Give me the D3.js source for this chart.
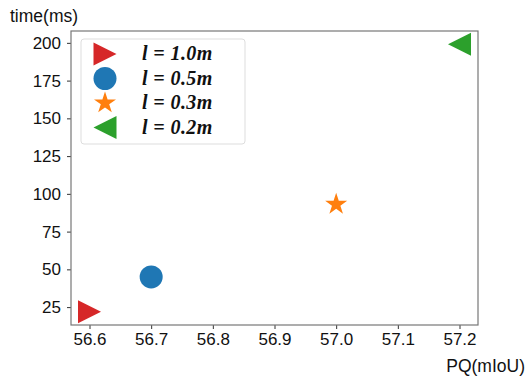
<!DOCTYPE html>
<html lang="en">
<head>
<meta charset="UTF-8">
<script src="https://cdn.jsdelivr.net/npm/d3@7"></script>
<style>
  body { margin: 0; background: #fff; }
  text { font-family: "Liberation Sans", Arial, sans-serif; }
  .leg text { font-family: "Liberation Serif", "Times New Roman", serif; font-weight: bold; font-style: italic; }
</style>
</head>
<body>
<div id="chart"></div>
<script>
// data
var labels = ["l = 1.0m", "l = 0.5m", "l = 0.3m", "l = 0.2m"];
var pq = [56.6, 56.7, 57.0, 57.2];
var time = [22, 45, 93, 199];
var colors = ["#d62728", "#1f77b4", "#ff7f0e", "#2ca02c"];
var shapes = ["right", "circle", "star", "left"];
var xTicks = [56.6, 56.7, 56.8, 56.9, 57.0, 57.1, 57.2];
var yTicks = [25, 50, 75, 100, 125, 150, 175, 200];

var W = 528, H = 376;
var m = {left: 71, top: 31, right: 50, bottom: 51};

var svg = d3.select("#chart").append("svg")
    .attr("width", W).attr("height", H);

// matplotlib style 5% margins
var xr = d3.extent(pq), yr = d3.extent(time);
var xp = (xr[1] - xr[0]) * 0.05, yp = (yr[1] - yr[0]) * 0.05;
var x = d3.scaleLinear().domain([xr[0] - xp, xr[1] + xp]).range([m.left, W - m.right]);
var y = d3.scaleLinear().domain([yr[0] - yp, yr[1] + yp]).range([H - m.bottom, m.top]);

var xAxis = svg.append("g")
    .attr("transform", "translate(0," + (H - m.bottom) + ")")
    .call(d3.axisBottom(x).tickValues(xTicks).tickFormat(d3.format(".1f")).tickSize(4).tickPadding(4));
var yAxis = svg.append("g")
    .attr("transform", "translate(" + m.left + ",0)")
    .call(d3.axisLeft(y).tickValues(yTicks).tickSize(4).tickPadding(6));

[xAxis, yAxis].forEach(function(a) {
  a.select(".domain").remove();
  a.selectAll("text").attr("font-size", 17).attr("fill", "#111");
  a.selectAll("line").attr("stroke", "#333");
});

// frame
svg.append("rect")
    .attr("x", m.left).attr("y", m.top)
    .attr("width", W - m.left - m.right).attr("height", H - m.top - m.bottom)
    .attr("fill", "none").attr("stroke", "#777").attr("stroke-width", 1.2);

function markerPath(shape, s) {
  if (shape == "circle") return d3.symbol(d3.symbolCircle, Math.PI * s * s)();
  if (shape == "star") return d3.symbol(d3.symbolStar, 150)();
  // triangles pointing right / left
  var h = s;
  if (shape == "right") return "M" + (-h) + "," + (-h) + "L" + h + ",0L" + (-h) + "," + h + "Z";
  return "M" + h + "," + (-h) + "L" + (-h) + ",0L" + h + "," + h + "Z";
}
var sizes = {right: 11.5, circle: 11.5, star: 11.5, left: 11.5};

svg.append("g").selectAll("path")
  .data(pq)
  .enter().append("path")
    .attr("transform", (d, i) => "translate(" + x(d) + "," + y(time[i]) + ")")
    .attr("d", (d, i) => markerPath(shapes[i], sizes[shapes[i]]))
    .attr("fill", (d, i) => colors[i]);

// legend
var leg = svg.append("g").attr("class", "leg");
leg.append("rect")
    .attr("x", 81).attr("y", 39).attr("width", 164).attr("height", 105)
    .attr("rx", 3).attr("fill", "#fff").attr("stroke", "#ddd");
labels.forEach(function(l, i) {
  var cy = 54 + i * 24.5;
  leg.append("path")
    .attr("transform", "translate(105," + cy + ")")
    .attr("d", markerPath(shapes[i], sizes[shapes[i]]))
    .attr("fill", colors[i]);
  leg.append("text")
    .attr("x", 142).attr("y", cy + 6)
    .attr("font-size", 20)
    .attr("letter-spacing", 0.4)
    .attr("fill", "#111")
    .text(l);
});

// axis labels
svg.append("text").attr("x", 10).attr("y", 22).attr("font-size", 17.5).attr("fill", "#111").text("time(ms)");
svg.append("text").attr("x", 525).attr("y", 372).attr("text-anchor", "end").attr("font-size", 17.5).attr("fill", "#111").text("PQ(mIoU)");
</script>
</body>
</html>
